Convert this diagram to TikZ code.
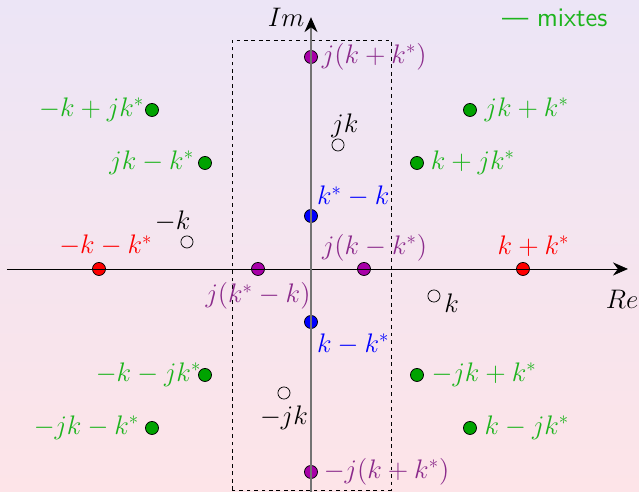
\documentclass[tikz,border=0pt]{standalone}
\usepackage{tikz}
\usetikzlibrary{positioning,arrows.meta}
\definecolor{bgtop}{HTML}{ECE5F6}
\definecolor{bgbottom}{HTML}{FDE4E8}
\definecolor{mixgreen}{HTML}{00A300}
\definecolor{mixtext}{HTML}{1DB41D}
\definecolor{purpdot}{HTML}{A800A8}
\definecolor{purptext}{HTML}{8B2A8B}

\begin{document}
\begin{tikzpicture}[
    dot/.style={circle, draw=black, thin, inner sep=0pt, minimum size=7pt},
    hollow/.style={circle, draw=black, thin, inner sep=0pt, minimum size=6.5pt},
    lbl/.style={font=\Large, inner sep=2pt},
  ]
  % Background
  \shade[top color=bgtop, bottom color=bgbottom] (-5.868,-4.208) rectangle (6.189,5.075);
  \useasboundingbox (-5.868,-4.208) rectangle (6.189,5.075);
  % Dashed window round the imaginary axis
  \draw[black, thin, dash pattern=on 2pt off 2pt] (-1.49,-4.17) rectangle (1.51,4.32);
  % Purely imaginary
  \node[dot, fill=purpdot] (pa) at (0,4) {};
  \node[lbl, text=purptext, right=0pt of pa] (pa-l) {$j(k+k^*)$};
  \node[dot, fill=purpdot] (pb) at (0,-3.83) {};
  \node[lbl, text=purptext, right=1pt of pb] (pb-l) {$-j(k+k^*)$};
  \node[dot, fill=purpdot] (pc) at (1,0) {};
  \node[lbl, text=purptext, above=-1.5pt of pc, xshift=0.2cm] (pc-l) {$j(k-k^*)$};
  \node[dot, fill=purpdot] (pd) at (-1,0) {};
  \node[lbl, text=purptext, below=1.5pt of pd] (pd-l) {$j(k^*-k)$};
  % Blue
  \node[dot, fill=blue] (ba) at (0,1) {};
  \node[lbl, text=blue, above right=0pt and -1.5pt of ba] (ba-l) {$k^*-k$};
  \node[dot, fill=blue] (bb) at (0,-1) {};
  \node[lbl, text=blue, below right=1.5pt and -1.5pt of bb] (bb-l) {$k-k^*$};
  % Red
  \node[dot, fill=red] (ra) at (4,0) {};
  \node[lbl, text=red, above=1pt of ra, xshift=0.2cm] (ra-l) {$k+k^*$};
  \node[dot, fill=red] (rb) at (-4,0) {};
  \node[lbl, text=red, above=1pt of rb, xshift=0.13cm] (rb-l) {$-k-k^*$};
  % Roots
  \node[hollow] (ka) at (2.32,-0.51) {};
  \node[lbl, right=0pt of ka, yshift=-0.13cm] (ka-l) {$k$};
  \node[hollow] (kb) at (0.51,2.34) {};
  \node[lbl, above=-1.5pt of kb, xshift=0.13cm] (kb-l) {$jk$};
  \node[hollow] (kc) at (-2.34,0.51) {};
  \node[lbl, above=0pt of kc, xshift=-0.27cm] (kc-l) {$-k$};
  \node[hollow] (kd) at (-0.51,-2.34) {};
  \node[lbl, below=1pt of kd] (kd-l) {$-jk$};
  % Mixed
  \foreach \n/\x/\y/\s/\d/\t in {ga/3/3/right/2pt/{jk+k^*}, gb/2/2/right/1.5pt/{k+jk^*},
      gc/-3/3/left/-1.7pt/{-k+jk^*}, gd/-2/2/left/0pt/{jk-k^*},
      ge/-2/-2/left/-3.9pt/{-k-jk^*}, gf/-3/-3/left/1pt/{-jk-k^*},
      gg/2/-2/right/2pt/{-jk+k^*}, gh/3/-3/right/2pt/{k-jk^*}}
  {
    \node[dot, fill=mixgreen] (\n) at (\x,\y) {};
    \node[lbl, text=mixtext, \s=\d of \n] (\n-l) {$\t$};
  }
  % Axes
  \coordinate (xstart) at (-5.74,0);
  \coordinate (xtip) at (5.98,0);
  \coordinate (ystart) at (0,-4.3);
  \coordinate (ytip) at (0,4.75);
  \draw[black, thin, -{Stealth[length=8pt,width=7pt]}] (xstart) -- (xtip);
  \draw[black!55, semithick, -{Stealth[color=black,length=8pt,width=7pt]}] (ystart) -- (ytip);
  \node[lbl] (im) at (-0.47,4.74) {$Im$};
  \node[lbl] (re) at (5.87,-0.57) {$Re$};
  % Legend
  \node[lbl, text=mixtext, font=\Large\sffamily, anchor=west] (legend) at (3.53,4.74) {--- mixtes};
\end{tikzpicture}
\end{document}
